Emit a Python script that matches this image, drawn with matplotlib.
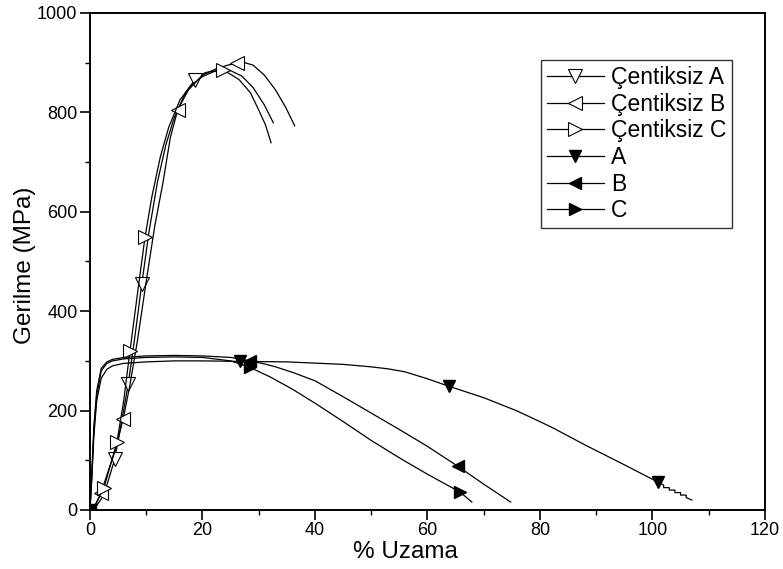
import matplotlib.pyplot as plt

plt.rcParams['font.family'] = ['Liberation Sans', 'DejaVu Sans']

# notch-free (Çentiksiz) specimens
cA_x = [0, 1, 2, 3, 4.4, 5.5, 6.8, 8, 9.2, 10.5, 12, 13.5, 15, 17, 18.7, 20.5, 22.5, 24.5, 26.5, 28.5, 30, 31.2, 32.2]
cA_y = [0, 6, 22, 50, 102, 170, 253, 350, 454, 560, 660, 735, 790, 840, 866, 880, 884, 880, 866, 840, 805, 775, 739]
cA_mk = [4, 6, 8, 14]

cB_x = [0, 1, 2, 3, 4.5, 5.9, 7, 8.5, 10, 11.5, 13, 14.3, 15.6, 17.5, 20, 22.5, 24.5, 26.1, 27.5, 29, 31, 33, 34.8, 36.4]
cB_y = [0, 10, 35, 70, 120, 183, 245, 345, 460, 570, 660, 750, 805, 845, 875, 888, 895, 899, 900, 895, 875, 845, 810, 773]
cB_mk = [2, 5, 12, 17]

cC_x = [0, 1, 2.5, 3.5, 4.8, 6, 7.1, 8.5, 9.8, 11, 12.5, 14, 16, 18, 20, 22, 23.6, 25, 27, 29, 31, 32.6]
cC_y = [0, 12, 45, 85, 137, 220, 319, 440, 550, 630, 710, 770, 825, 855, 872, 882, 885, 884, 873, 850, 815, 779]
cC_mk = [2, 4, 6, 8, 16]

# notched specimens
A_x = [0, 0.3, 0.7, 1.2, 2, 3, 4, 6, 10, 15, 20, 26.7, 35, 45, 50, 53, 56, 60, 63.8, 70, 76, 82, 88, 95, 101,
       102, 102, 103, 103, 104, 104, 105, 105, 106, 106, 107]
A_y = [0, 60, 150, 220, 265, 283, 290, 295, 298, 300, 300, 299, 298, 293, 288, 284, 278, 264, 249, 226, 199, 167, 131, 91, 56,
       50, 45, 45, 40, 40, 35, 35, 30, 30, 25, 20]
A_mk = [0, 11, 18, 24]

B_x = [0, 0.3, 0.7, 1.2, 2, 3, 4, 6, 10, 15, 20, 25, 28.5, 31, 33, 36, 40, 45, 50, 55, 60, 65.4, 70, 74.8]
B_y = [0, 70, 170, 240, 285, 298, 303, 307, 310, 311, 310, 307, 300, 294, 288, 277, 260, 228, 195, 162, 128, 88, 52, 16]
B_mk = [0, 12, 21]

C_x = [0, 0.3, 0.7, 1.2, 2, 3, 4, 6, 10, 15, 20, 25, 28.4, 32, 36, 40, 45, 50, 55, 60, 65.8, 67.9]
C_y = [0, 60, 160, 230, 280, 295, 300, 304, 307, 308, 307, 300, 287, 268, 243, 215, 178, 140, 105, 72, 36, 16]
C_mk = [0, 12, 20]

fig = plt.figure(figsize=(7.83, 5.69), dpi=100)
ax = fig.add_axes([0.1149, 0.1037, 0.862, 0.8735])

lw = 0.9
ax.plot(cA_x, cA_y, color='black', lw=lw, marker='v', ms=10, mfc='white', mec='black', mew=0.8,
        markevery=cA_mk, label='Çentiksiz A')
ax.plot(cB_x, cB_y, color='black', lw=lw, marker='<', ms=10, mfc='white', mec='black', mew=0.8,
        markevery=cB_mk, label='Çentiksiz B')
ax.plot(cC_x, cC_y, color='black', lw=lw, marker='>', ms=10, mfc='white', mec='black', mew=0.8,
        markevery=cC_mk, label='Çentiksiz C')
ax.plot(A_x, A_y, color='black', lw=lw, marker='v', ms=9, mfc='black', mec='black',
        markevery=A_mk, label='A')
ax.plot(B_x, B_y, color='black', lw=lw, marker='<', ms=9, mfc='black', mec='black',
        markevery=B_mk, label='B')
ax.plot(C_x, C_y, color='black', lw=lw, marker='>', ms=9, mfc='black', mec='black',
        markevery=C_mk, label='C')

ax.set_xlim(0, 120)
ax.set_ylim(0, 1000)
ax.set_xticks(range(0, 121, 20))
ax.set_xticks(range(10, 120, 20), minor=True)
ax.set_yticks(range(0, 1001, 200))
ax.set_yticks(range(100, 1000, 200), minor=True)
ax.tick_params(which='major', direction='out', length=7, width=1.2, labelsize=13, pad=2)
ax.tick_params(which='minor', direction='out', length=3.6, width=1.0)
for s in ax.spines.values():
    s.set_linewidth(1.4)

ax.set_xlabel('% Uzama', fontsize=17.5)
ax.xaxis.set_label_coords(0.468, -0.062)
ax.set_ylabel('Gerilme (MPa)', fontsize=17.5)
ax.yaxis.set_label_coords(-0.08, 0.493)

leg = ax.legend(loc='upper left', bbox_to_anchor=(0.668, 0.905), fontsize=16.5, frameon=True,
                fancybox=False, edgecolor='black', handlelength=2.5, handletextpad=0.3,
                labelspacing=0.16, borderpad=0.25, borderaxespad=0)
leg.get_frame().set_linewidth(1.0)

fig.savefig('out.png', dpi=100)
